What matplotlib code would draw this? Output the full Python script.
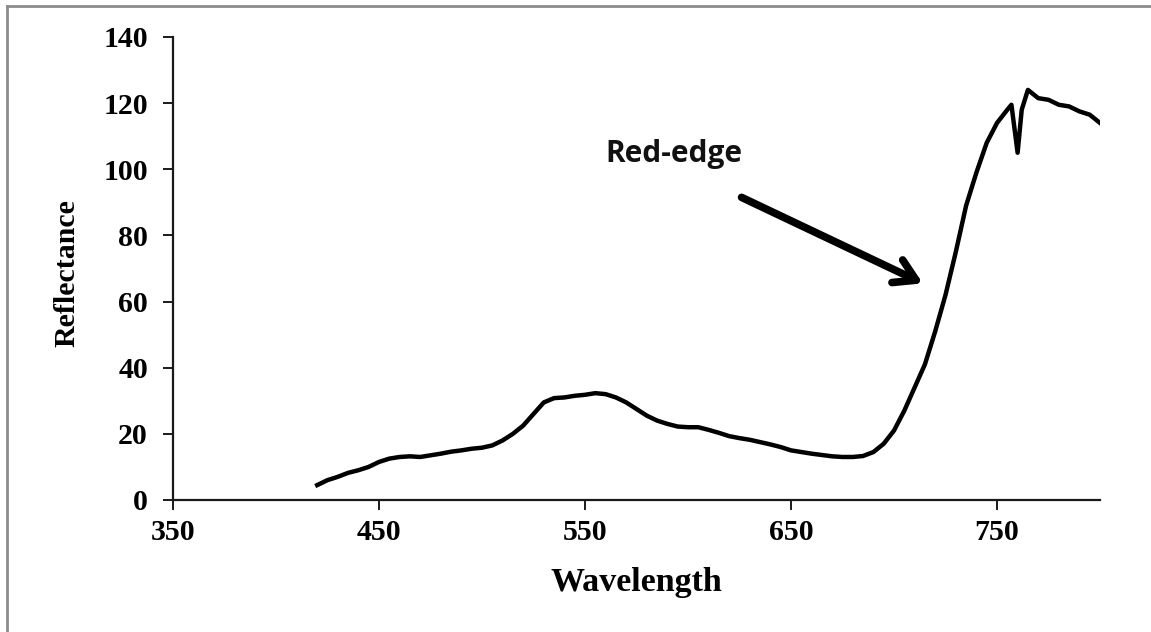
import matplotlib
matplotlib.use("Agg")
import matplotlib.pyplot as plt
from matplotlib.lines import Line2D

wavelength = [420, 425, 430, 435, 440, 445, 450, 455, 460, 465, 470, 475, 480,
              485, 490, 495, 500, 505, 510, 515, 520, 525, 530, 535, 540, 545,
              550, 555, 560, 565, 570, 575, 580, 585, 590, 595, 600, 605, 610,
              615, 620, 625, 630, 635, 640, 645, 650, 655, 660, 665, 670, 675,
              680, 685, 690, 695, 700, 705, 710, 715, 720, 725, 730, 735, 740,
              745, 750, 755, 757, 760, 762, 765, 770, 775, 780, 785, 790, 795, 800]
reflectance = [4.5, 6.0, 7.0, 8.2, 9.0, 10.0, 11.5, 12.5, 13.0, 13.2, 13.0, 13.5, 14.0,
               14.6, 15.0, 15.5, 15.8, 16.5, 18.0, 20.0, 22.5, 26.0, 29.5, 30.8, 31.0, 31.5,
               31.8, 32.3, 32.0, 31.0, 29.5, 27.5, 25.5, 24.0, 23.0, 22.2, 22.0, 22.0, 21.2,
               20.3, 19.3, 18.7, 18.2, 17.5, 16.8, 16.0, 15.0, 14.5, 14.0, 13.6, 13.2, 13.0,
               13.0, 13.3, 14.5, 17.0, 21.0, 27.0, 34.0, 41.0, 51.0, 62.0, 75.0, 89.0, 99.0,
               108.0, 114.0, 118.0, 119.5, 105.0, 118.0, 124.0, 121.5, 121.0, 119.5, 119.0, 117.5, 116.5, 114.0]

x_ticks = [350, 450, 550, 650, 750]
y_ticks = [0, 20, 40, 60, 80, 100, 120, 140]
annotation_text = "Red-edge"

fig = plt.figure(figsize=(11.51, 6.32), dpi=100)
ax = fig.add_axes([0.1503, 0.2089, 0.8054, 0.7326])

ax.plot(wavelength, reflectance, color="black", lw=3.2, solid_joinstyle="round")

ax.set_xlim(350, 800)
ax.set_ylim(0, 140)
ax.set_xticks(x_ticks)
ax.set_yticks(y_ticks)

for s in ["top", "right"]:
    ax.spines[s].set_visible(False)
for s in ["left", "bottom"]:
    ax.spines[s].set_linewidth(1.6)
    ax.spines[s].set_color("#1a1a1a")

serif = "Liberation Serif"
ax.tick_params(axis="both", direction="out", length=7, width=1.4, color="#1a1a1a")
ax.tick_params(axis="x", pad=7)
ax.tick_params(axis="y", pad=11)
for lab in ax.get_xticklabels() + ax.get_yticklabels():
    lab.set_fontfamily(serif)
    lab.set_fontweight("bold")
    lab.set_fontsize(21.5)

ax.set_xlabel("Wavelength", fontfamily=serif, fontweight="bold", fontsize=24.5)
ax.set_ylabel("Reflectance", fontfamily=serif, fontweight="bold", fontsize=21.5)
ax.xaxis.set_label_coords(0.5, -0.145)
ax.yaxis.set_label_coords(-0.1, 0.49)

ax.annotate("", xy=(714, 65.5), xytext=(626, 91.5),
            arrowprops=dict(arrowstyle="->,head_length=1.5,head_width=0.9",
                            lw=5.5, color="black", shrinkA=0, shrinkB=0))
ax.text(593, 104.5, annotation_text, fontfamily="Open Sans", fontweight="bold",
        fontsize=21.5, ha="center", va="center", color="#111111")

# outer gray frame (left and top edges visible)
fig.add_artist(Line2D([0.0061, 0.0061], [0, 0.9905], transform=fig.transFigure,
                      color="#8c8c8c", lw=2))
fig.add_artist(Line2D([0.0061, 1.0], [0.9905, 0.9905], transform=fig.transFigure,
                      color="#8c8c8c", lw=2))

fig.savefig("out.png", dpi=100)
